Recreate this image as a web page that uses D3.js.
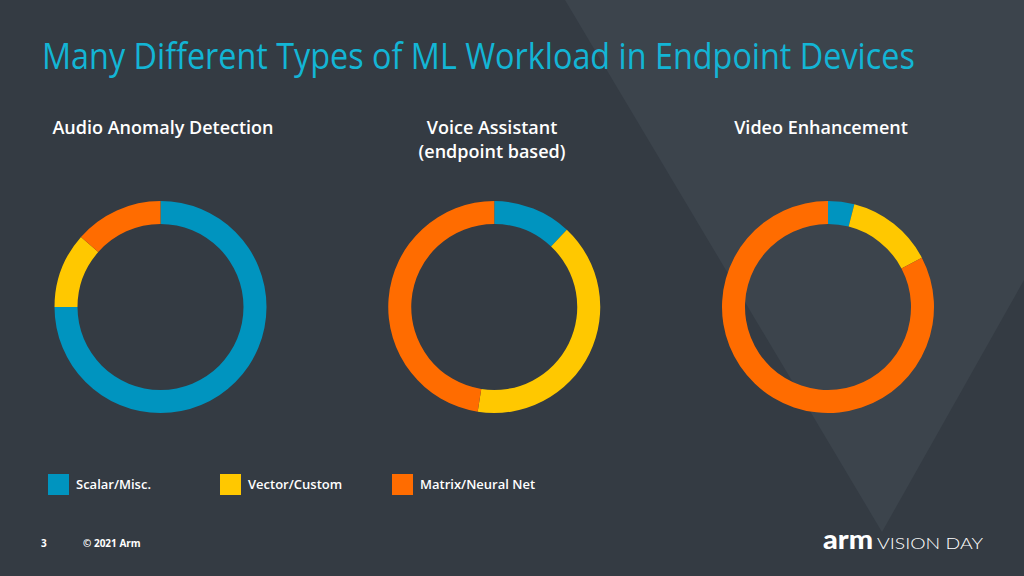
<!DOCTYPE html>
<html>
<head>
<meta charset="utf-8">
<script src="https://cdn.jsdelivr.net/npm/d3@7"></script>
<style>
html,body{margin:0;padding:0;background:#343b43;}
svg{display:block;}
</style>
</head>
<body>
<svg id="chart" width="1024" height="576"></svg>
<script>
// ---- data ----
const categories = ["Scalar/Misc.", "Vector/Custom", "Matrix/Neural Net"];
const chartTitles = [["Audio Anomaly Detection"], ["Voice Assistant", "(endpoint based)"], ["Video Enhancement"]];
const audioValues = [75, 11.5, 13.5];
const voiceValues = [12, 40.5, 47.5];
const videoValues = [4, 13.3, 82.7];
const seriesValues = [audioValues, voiceValues, videoValues];
const titleText = "Many Different Types of ML Workload in Endpoint Devices";
const pageNumber = "3";
const copyrightText = "© 2021 Arm";
const logoWord = "arm";
const logoTagline = "VISION DAY";

// ---- styles ----
const colors = d3.scaleOrdinal().domain(categories).range(["#0094bf", "#ffc800", "#ff6c00"]);
const svg = d3.select("#chart");
const W = 1024, H = 576;

// background
svg.append("rect").attr("width", W).attr("height", H).attr("fill", "#343b43");
svg.append("polygon")
  .attr("points", [[565,0],[1024,0],[1024,280],[882,532]].map(p => p.join(",")).join(" "))
  .attr("fill", "#3c444c");

// title (horizontally condensed to the reference width)
const titleG = svg.append("g");
const titleEl = titleG.append("text")
  .attr("x", 0).attr("y", 0)
  .attr("font-family", "Open Sans, sans-serif")
  .attr("font-weight", 500)
  .attr("font-size", 37)
  .attr("fill", "#13b5d5")
  .text(titleText);
const natW = titleEl.node().getComputedTextLength();
titleG.attr("transform", `translate(42,69) scale(${873 / natW},1)`);

// scales for placement
const idx = d3.range(seriesValues.length);
const xDonut = d3.scalePoint().domain(idx).range([160.5, 828]);
const xTitle = d3.scalePoint().domain(idx).range([163, 821]);
const outerR = 106, innerR = 83, cy = 307;

const pie = d3.pie().sort(null).value(d => d);
const arc = d3.arc().innerRadius(innerR).outerRadius(outerR);

idx.forEach(i => {
  const g = svg.append("g").attr("transform", `translate(${xDonut(i)},${cy})`);
  g.selectAll("path")
    .data(pie(seriesValues[i]))
    .join("path")
    .attr("d", arc)
    .attr("fill", (d, j) => colors(categories[j]));

  const t = svg.append("text")
    .attr("x", xTitle(i)).attr("y", 134)
    .attr("text-anchor", "middle")
    .attr("font-family", "Open Sans, sans-serif")
    .attr("font-weight", 600)
    .attr("font-size", 18)
    .attr("fill", "#ffffff");
  chartTitles[i].forEach((line, k) => {
    t.append("tspan").attr("x", xTitle(i)).attr("dy", k === 0 ? 0 : 24).text(line);
  });
});

// legend
const xLegend = d3.scalePoint().domain(categories).range([48, 392]);
const lg = svg.append("g");
categories.forEach(c => {
  lg.append("rect")
    .attr("x", xLegend(c)).attr("y", 474)
    .attr("width", 21).attr("height", 21)
    .attr("fill", colors(c));
  lg.append("text")
    .attr("x", xLegend(c) + 28).attr("y", 489)
    .attr("font-family", "Open Sans, sans-serif")
    .attr("font-weight", 600)
    .attr("font-size", 13)
    .attr("fill", "#ffffff")
    .text(c);
});

// footer
svg.append("text")
  .attr("x", 41).attr("y", 547)
  .attr("font-family", "Open Sans, sans-serif").attr("font-weight", 700)
  .attr("font-size", 10).attr("fill", "#ffffff")
  .text(pageNumber);
svg.append("text")
  .attr("x", 83).attr("y", 547)
  .attr("font-family", "Open Sans, sans-serif").attr("font-weight", 700)
  .attr("font-size", 10).attr("fill", "#ffffff")
  .text(copyrightText);

// logo
svg.append("text")
  .attr("x", 823).attr("y", 549)
  .attr("font-family", "Lato, sans-serif").attr("font-weight", 900)
  .attr("font-size", 26)
  .attr("textLength", 50).attr("lengthAdjust", "spacingAndGlyphs")
  .attr("fill", "#ffffff")
  .text(logoWord);
svg.append("text")
  .attr("x", 877).attr("y", 549)
  .attr("font-family", "Lato, sans-serif").attr("font-weight", 300)
  .attr("font-size", 16)
  .attr("textLength", 106).attr("lengthAdjust", "spacingAndGlyphs")
  .attr("fill", "#ffffff")
  .text(logoTagline);
</script>
</body>
</html>
